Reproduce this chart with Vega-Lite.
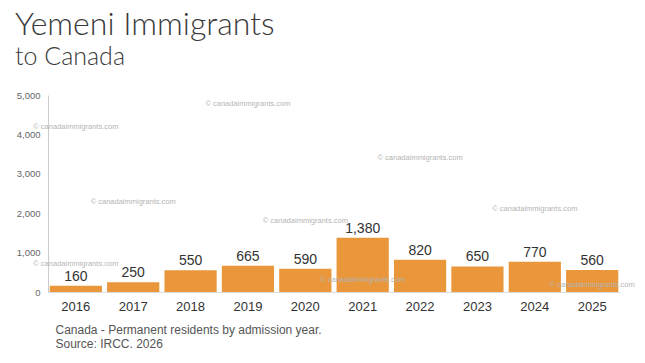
{
  "$schema": "https://vega.github.io/schema/vega-lite/v6.json",
  "width": 572,
  "height": 197,
  "autosize": {"type": "none"},
  "padding": {"left": 48, "top": 95, "right": 25, "bottom": 71},
  "background": "#ffffff",
  "title": {
    "text": "Yemeni Immigrants",
    "subtitle": "to Canada",
    "anchor": "start",
    "frame": "group",
    "dx": -33,
    "offset": 19,
    "font": "Lato",
    "fontSize": 32,
    "fontWeight": 300,
    "color": "#3a3a3a",
    "subtitleFont": "Lato",
    "subtitleFontSize": 25,
    "subtitleFontWeight": 300,
    "subtitleColor": "#3a3a3a",
    "subtitlePadding": 3
  },
  "datasets": {
    "immigrants": [
      {"year": "2016", "residents": 160},
      {"year": "2017", "residents": 250},
      {"year": "2018", "residents": 550},
      {"year": "2019", "residents": 665},
      {"year": "2020", "residents": 590},
      {"year": "2021", "residents": 1380},
      {"year": "2022", "residents": 820},
      {"year": "2023", "residents": 650},
      {"year": "2024", "residents": 770},
      {"year": "2025", "residents": 560}
    ],
    "watermarks": [
      {"year": "2016", "level": 4200, "text": "© canadaimmigrants.com"},
      {"year": "2016", "level": 720, "text": "© canadaimmigrants.com"},
      {"year": "2017", "level": 2290, "text": "© canadaimmigrants.com"},
      {"year": "2019", "level": 4760, "text": "© canadaimmigrants.com"},
      {"year": "2020", "level": 1810, "text": "© canadaimmigrants.com"},
      {"year": "2021", "level": 310, "text": "© canadaimmigrants.com"},
      {"year": "2022", "level": 3400, "text": "© canadaimmigrants.com"},
      {"year": "2024", "level": 2100, "text": "© canadaimmigrants.com"},
      {"year": "2025", "level": 180, "text": "© canadaimmigrants.com"}
    ]
  },
  "layer": [
    {
      "data": {"name": "immigrants"},
      "mark": {"type": "bar", "color": "#EA963A"},
      "encoding": {
        "x": {
          "field": "year",
          "type": "ordinal",
          "scale": {"paddingInner": 0.09, "paddingOuter": 0.03},
          "axis": {"title": ["Canada - Permanent residents by admission year.", "Source: IRCC. 2026"]}
        },
        "y": {
          "field": "residents",
          "type": "quantitative",
          "scale": {"domain": [0, 5000], "nice": false},
          "axis": {"title": null, "values": [0, 1000, 2000, 3000, 4000, 5000], "format": ",d"}
        }
      }
    },
    {
      "data": {"name": "watermarks"},
      "mark": {"type": "text", "fontSize": 7.5, "font": "Liberation Sans", "color": "#b5b5b5"},
      "encoding": {
        "x": {"field": "year", "type": "ordinal", "axis": {"title": ["Canada - Permanent residents by admission year.", "Source: IRCC. 2026"]}},
        "y": {"field": "level", "type": "quantitative", "axis": {"title": null, "values": [0, 1000, 2000, 3000, 4000, 5000], "format": ",d"}},
        "text": {"field": "text"}
      }
    },
    {
      "data": {"name": "immigrants"},
      "mark": {"type": "text", "baseline": "alphabetic", "dy": -5, "font": "Liberation Sans", "fontSize": 14, "color": "#333333"},
      "encoding": {
        "x": {"field": "year", "type": "ordinal", "axis": {"title": ["Canada - Permanent residents by admission year.", "Source: IRCC. 2026"]}},
        "y": {"field": "residents", "type": "quantitative", "axis": {"title": null, "values": [0, 1000, 2000, 3000, 4000, 5000], "format": ",d"}},
        "text": {"field": "residents", "type": "quantitative", "format": ",d"}
      }
    }
  ],
  "config": {
    "view": {"stroke": null},
    "axisX": {
      "titleAnchor": "start",
      "titleAlign": "left",
      "titleBaseline": "alphabetic",
      "titleX": 7,
      "titleY": 41,
      "titleFont": "Liberation Sans",
      "titleFontSize": 12,
      "titleFontWeight": "normal",
      "titleColor": "#555555",
      "titleLineHeight": 14,
      "labelAngle": 0,
      "labelFont": "Liberation Sans",
      "labelFontSize": 13,
      "labelColor": "#333333",
      "labelPadding": 8,
      "ticks": false,
      "domainColor": "#dddddd"
    },
    "axisY": {
      "labelOverlap": false,
      "grid": false,
      "ticks": false,
      "labelPadding": 8,
      "labelFont": "Liberation Sans",
      "labelFontSize": 9.5,
      "labelColor": "#666666",
      "domainColor": "#cccccc"
    }
  }
}
